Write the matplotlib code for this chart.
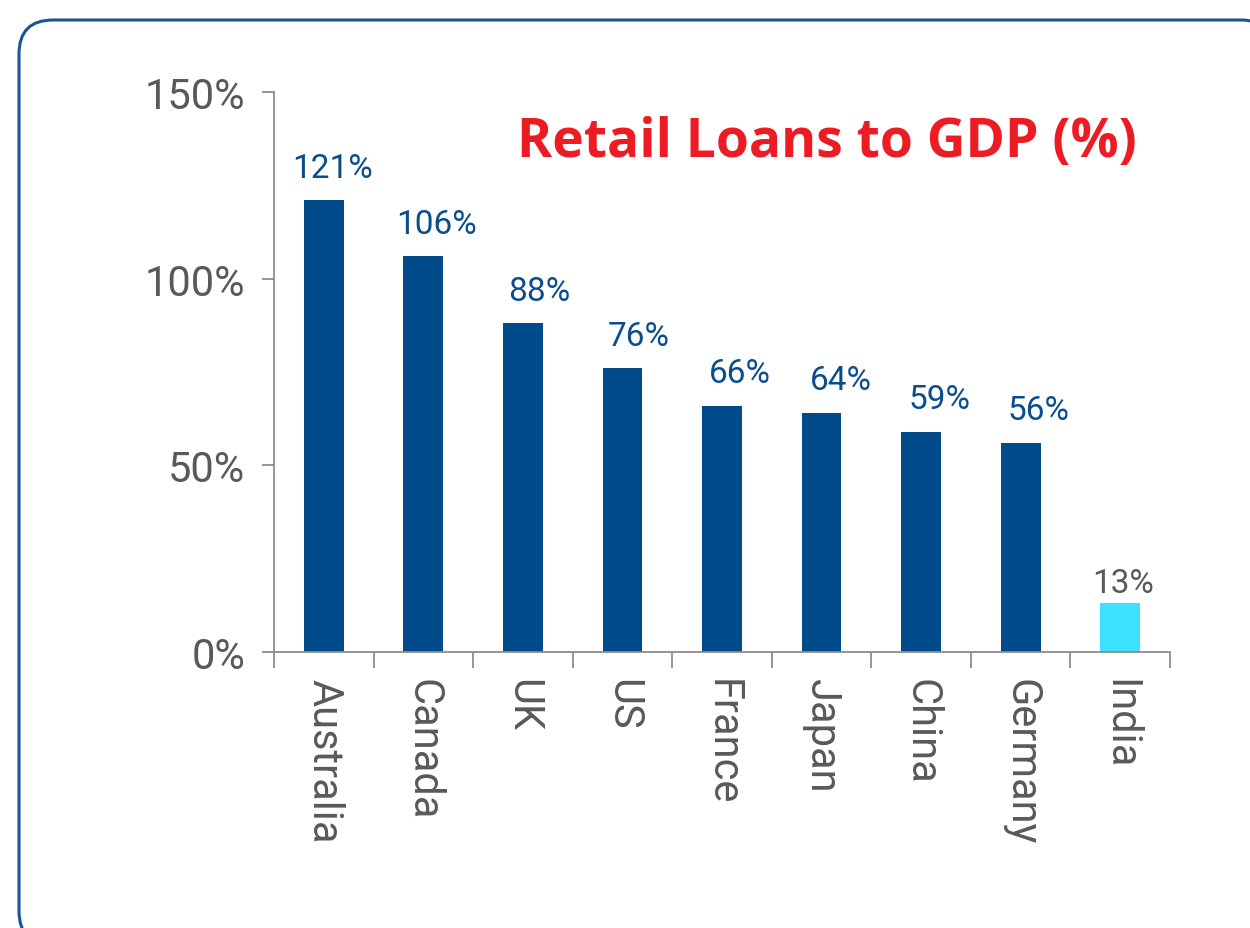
import matplotlib
matplotlib.use("Agg")
import matplotlib.pyplot as plt
from matplotlib.patches import FancyBboxPatch

countries = ["Australia", "Canada", "UK", "US", "France", "Japan", "China", "Germany", "India"]
loans_pct = [121, 106, 88, 76, 66, 64, 59, 56, 13]
y_ticks = [0, 50, 100, 150]
y_tick_labels = ["0%", "50%", "100%", "150%"]
title = "Retail Loans to GDP (%)"

NAVY = "#024b8b"
CYAN = "#3de2ff"
RED = "#ed1c24"
AXIS_GRAY = "#8c8c8c"
TEXT_GRAY = "#595959"
LABEL_BLUE = "#0a4d8e"
BORDER = "#1c5496"

# per-label nudges (points) for the value annotations
label_dx = [6.5, 9.5, 12, 12, 13, 14, 13.5, 13, 2]
label_dy = [12, 12, 12, 12, 12, 12, 12, 12, 3.5]

W, H = 1250, 929
fig = plt.figure(figsize=(W / 100, H / 100), dpi=100)

# rounded frame drawn in pixel units on a full-figure background axes
bg = fig.add_axes([0, 0, 1, 1], zorder=0)
bg.set_xlim(0, W)
bg.set_ylim(H, 0)
bg.axis("off")
bg.add_patch(FancyBboxPatch((19, 21), 1256, 925,
                            boxstyle="round,pad=0,rounding_size=34",
                            fc="white", ec=BORDER, lw=2.2))

ax = fig.add_axes([274 / W, (H - 653) / H, (1170 - 274) / W, (653 - 93) / H], zorder=1)
ax.patch.set_alpha(0)

x = list(range(len(countries)))
colors = [NAVY] * (len(countries) - 1) + [CYAN]
bars = ax.bar(x, loans_pct, width=0.4, color=colors, zorder=2)

for xi, v, c, dx, dy in zip(x, loans_pct, colors, label_dx, label_dy):
    ax.annotate(f"{v}%", (xi, v), xytext=(dx, dy), textcoords="offset points",
                ha="center", va="bottom", fontsize=24, family="Roboto",
                color=(TEXT_GRAY if c == CYAN else LABEL_BLUE))

ax.set_xlim(-0.5, len(countries) - 0.5)
ax.set_ylim(0, 150)

for s in ["top", "right"]:
    ax.spines[s].set_visible(False)
for s in ["left", "bottom"]:
    ax.spines[s].set_color(AXIS_GRAY)
    ax.spines[s].set_linewidth(1.3)

ax.set_yticks(y_ticks)
ax.set_yticklabels(y_tick_labels)
ax.tick_params(axis="y", length=8.6, width=1.3, color=AXIS_GRAY, pad=12,
               labelsize=30, labelcolor=TEXT_GRAY)
for lbl in ax.get_yticklabels():
    lbl.set_family("Roboto")

ax.set_xticks(x)
ax.set_xticklabels(countries, rotation=-90, ha="center", va="top")
ax.tick_params(axis="x", which="major", length=0, pad=19,
               labelsize=30, labelcolor=TEXT_GRAY)
for lbl in ax.get_xticklabels():
    lbl.set_family("Roboto")
ax.set_xticks([i - 0.5 for i in range(len(countries) + 1)], minor=True)
ax.tick_params(axis="x", which="minor", length=11.5, width=1.3, color=AXIS_GRAY)

fig.text(827 / W, (H - 157) / H, title, ha="center", va="baseline",
         fontsize=38.5, fontweight="bold", family="Open Sans", color=RED)

fig.savefig("out.png", dpi=100)
